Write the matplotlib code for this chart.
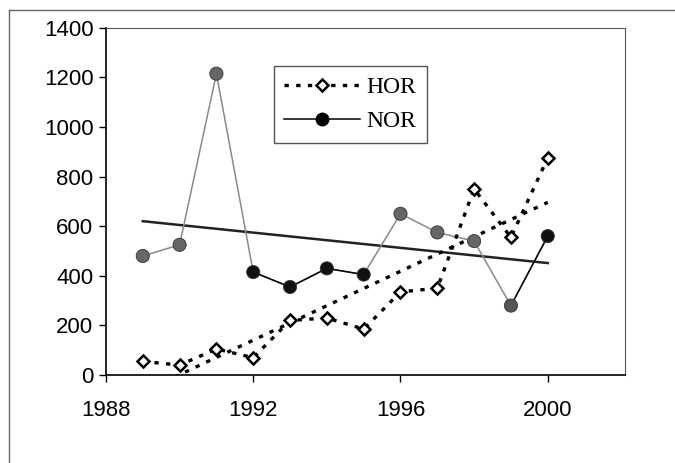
import numpy as np
import matplotlib
matplotlib.use('Agg')
import matplotlib.pyplot as plt
from matplotlib.lines import Line2D

plt.rcParams['font.family'] = ['Liberation Sans', 'DejaVu Sans']

# Data
years = [1989, 1990, 1991, 1992, 1993, 1994, 1995, 1996, 1997, 1998, 1999, 2000]
hor = [55, 40, 105, 70, 220, 230, 185, 335, 350, 750, 555, 875]
nor = [480, 525, 1215, 415, 355, 430, 405, 650, 575, 540, 280, 560]
xticks = [1988, 1992, 1996, 2000]
yticks = [0, 200, 400, 600, 800, 1000, 1200, 1400]

fig = plt.figure(figsize=(6.75, 4.63), dpi=100)
ax = fig.add_axes([0.157, 0.19, 0.769, 0.75])

x = np.array(years)
# linear trends
p_hor = np.polyfit(x, hor, 1)
p_nor = np.polyfit(x, nor, 1)

# NOR series (scan makes some segments look grey)
ax.plot(years, nor, color='#8a8a8a', linewidth=1.1, zorder=2)
ax.plot(years[3:7], nor[3:7], color='black', linewidth=1.1, zorder=2)
ax.plot(years[10:], nor[10:], color='black', linewidth=1.1, zorder=2)
mcol = ['#666666', '#666666', '#666666', '#111111', '#111111', '#111111', '#111111',
        '#666666', '#666666', '#666666', '#555555', '#111111']
ax.scatter(years, nor, s=90, c=mcol, edgecolors='#333333', linewidths=0.6, zorder=4)

# HOR series
ax.plot(years, hor, color='black', linestyle=(0, (1.3, 2.2)), linewidth=2.4,
        marker='D', markersize=6.5, markerfacecolor='white', markeredgecolor='black',
        markeredgewidth=1.8, zorder=3)

# trend lines
ax.plot(x, np.polyval(p_nor, x), color='#222222', linewidth=1.8, zorder=1)
ax.plot(x, np.polyval(p_hor, x), color='black', linestyle=(0, (1.3, 2.2)), linewidth=2.4, zorder=1)

ax.set_xlim(1988, 2002.1)
ax.set_ylim(0, 1400)
ax.set_xticks(xticks)
ax.set_yticks(yticks)
ax.tick_params(direction='out', length=5, labelsize=16, width=1)
ax.tick_params(axis='x', pad=13)
ax.tick_params(axis='y', pad=4)
for s in ['left', 'bottom']:
    ax.spines[s].set_linewidth(1.2)
for s in ['top', 'right']:
    ax.spines[s].set_linewidth(0.8)
    ax.spines[s].set_color('#555555')

handles = [
    Line2D([], [], color='black', linestyle=(0, (1.3, 2.2)), linewidth=2.4, marker='D',
           markersize=6.5, markerfacecolor='white', markeredgecolor='black', markeredgewidth=1.8),
    Line2D([], [], color='black', linewidth=1.1, marker='o', markersize=9,
           markerfacecolor='black', markeredgecolor='black'),
]
leg = ax.legend(handles, ['HOR', 'NOR'], loc='upper left', bbox_to_anchor=(0.3, 0.925),
                prop={'family': 'Liberation Serif', 'size': 17}, fancybox=False,
                framealpha=1, edgecolor='#555555', handlelength=3.2, handletextpad=0.3,
                borderpad=0.45, labelspacing=0.55)
leg.get_frame().set_linewidth(1.0)

# outer border of the scanned figure
fig.add_artist(Line2D([0.013, 1.0], [0.978, 0.978], color='#666666', linewidth=1))
fig.add_artist(Line2D([0.013, 0.013], [0.0, 0.978], color='#666666', linewidth=1))

fig.savefig('out.png', dpi=100)
